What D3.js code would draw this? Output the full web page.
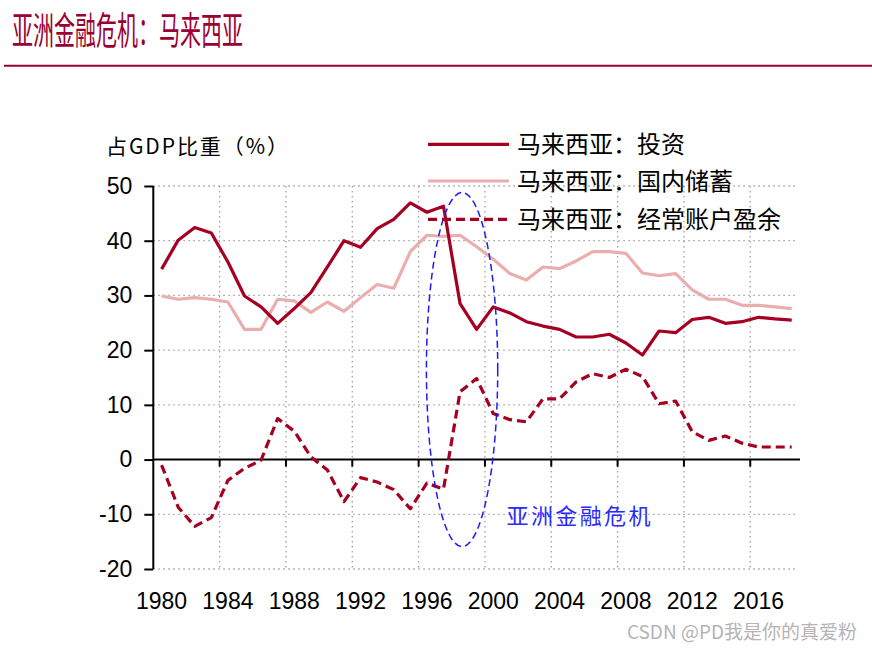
<!DOCTYPE html>
<html>
<head>
<meta charset="utf-8">
<script src="https://cdn.jsdelivr.net/npm/d3@7/dist/d3.min.js"></script>
<style>
  html, body { margin: 0; padding: 0; background: #fff; }
  svg { display: block; }
</style>
</head>
<body>
<svg id="chart" width="872" height="650"></svg>
<script>
// ---- data ----
const years = [1980,1981,1982,1983,1984,1985,1986,1987,1988,1989,
               1990,1991,1992,1993,1994,1995,1996,1997,1998,1999,
               2000,2001,2002,2003,2004,2005,2006,2007,2008,2009,
               2010,2011,2012,2013,2014,2015,2016,2017,2018];
const investment = [34.8,40.1,42.4,41.4,36.1,29.9,27.9,24.9,27.6,30.5,
                    35.2,40.0,38.8,42.2,43.9,46.9,45.2,46.3,28.5,23.8,
                    27.9,26.8,25.2,24.4,23.8,22.4,22.4,22.9,21.3,19.1,
                    23.5,23.2,25.6,26.0,24.9,25.2,26.0,25.7,25.5];
const savings = [29.9,29.3,29.6,29.3,28.8,23.8,23.8,29.3,29.0,26.9,
                 28.8,27.1,29.6,32.0,31.3,38.0,41.0,40.8,41.0,38.9,
                 36.6,34.0,32.8,35.2,34.9,36.3,38.0,38.0,37.7,34.1,
                 33.6,34.0,31.0,29.3,29.3,28.2,28.2,27.9,27.6];
const currentAccount = [-1.0,-8.7,-12.2,-10.6,-3.8,-1.6,-0.1,7.5,5.2,0.5,
                        -1.9,-7.7,-3.3,-4.1,-5.5,-9.0,-4.3,-5.4,12.4,14.8,
                        8.4,7.3,6.9,11.1,11.1,14.2,15.7,15.0,16.5,15.2,
                        10.2,10.7,5.1,3.5,4.3,3.0,2.3,2.3,2.3];
const yTicks = [-20,-10,0,10,20,30,40,50];
const xTickYears = [1980,1984,1988,1992,1996,2000,2004,2008,2012,2016];
const seriesNames = ["马来西亚：投资","马来西亚：国内储蓄","马来西亚：经常账户盈余"];
const titleText = "亚洲金融危机：马来西亚";
const yLabelText = "占GDP比重（%）";
const annotationText = "亚洲金融危机";
const watermarkText = "CSDN @PD我是你的真爱粉";
// crisis ellipse in data terms: centre year, value extent, half width in years
const crisisYear = 1998, crisisTop = 48.8, crisisBottom = -15.9, crisisHalfYears = 2.15;

// ---- styles ----
const C_INV = "#a50021", C_SAV = "#eaaeae", C_CA = "#a50021", C_TITLE = "#9b0034";
const CJK = "'Noto Sans CJK SC','Noto Sans',sans-serif";
const NUM = "'Liberation Sans',Arial,sans-serif";

const svg = d3.select("#chart");
const pL = 153.3, pR = 800, pT = 186, pB = 569;

const x = d3.scaleBand().domain(years).range([pL, pR]).padding(0);
const xc = d => x(d) + x.bandwidth() / 2;
const y = d3.scaleLinear().domain([-20, 50]).range([pB, pT]);

// title
svg.append("text").attr("x", 12).attr("y", 44)
  .attr("font-family", CJK).attr("font-size", 38).attr("fill", C_TITLE)
  .attr("textLength", 231).attr("lengthAdjust", "spacingAndGlyphs")
  .text(titleText);
svg.append("line").attr("x1", 4).attr("x2", 872).attr("y1", 65.7).attr("y2", 65.7)
  .attr("stroke", C_TITLE).attr("stroke-width", 2);

// grid
const g = svg.append("g");
g.selectAll("line.hg").data(yTicks.filter(t => t !== 0)).enter().append("line")
  .attr("x1", pL).attr("x2", pR - 2).attr("y1", d => y(d)).attr("y2", d => y(d))
  .attr("stroke", "#a0a0a0").attr("stroke-width", 1.3).attr("stroke-dasharray", "1.5,3.5");
g.selectAll("line.vg").data(xTickYears.filter(t => t !== 1980)).enter().append("line")
  .attr("x1", d => x(d)).attr("x2", d => x(d)).attr("y1", pT).attr("y2", pB)
  .attr("stroke", "#a0a0a0").attr("stroke-width", 1.3).attr("stroke-dasharray", "1.5,3.5");

// y axis
const yAxis = d3.axisLeft(y).tickValues(yTicks).tickSize(9).tickPadding(12).tickFormat(d => String(d));
const ya = svg.append("g").attr("transform", `translate(${pL},0)`).call(yAxis);
ya.select(".domain").attr("stroke", "#000").attr("stroke-width", 2).attr("d", `M0,${pT}V${pB}`);
ya.selectAll(".tick line").attr("stroke", "#000").attr("stroke-width", 2);
ya.selectAll(".tick text").attr("font-family", NUM).attr("font-size", 23).attr("fill", "#000");

// x axis at zero
const xa = svg.append("g").attr("transform", `translate(0,${y(0)})`);
xa.append("line").attr("x1", pL).attr("x2", pR).attr("y1", 0).attr("y2", 0)
  .attr("stroke", "#000").attr("stroke-width", 2);
xa.selectAll("line.tk").data(xTickYears.filter(t => t !== 1980)).enter().append("line")
  .attr("x1", d => x(d)).attr("x2", d => x(d)).attr("y1", 0).attr("y2", 7)
  .attr("stroke", "#000").attr("stroke-width", 2);
svg.selectAll("text.xl").data(xTickYears).enter().append("text")
  .attr("x", d => xc(d)).attr("y", 609).attr("text-anchor", "middle")
  .attr("font-family", NUM).attr("font-size", 23).attr("fill", "#000")
  .text(d => d);

// y label
svg.append("text").attr("x", 106).attr("y", 154)
  .attr("font-family", CJK).attr("font-size", 21).attr("fill", "#000")
  .attr("textLength", 182).attr("lengthAdjust", "spacing")
  .text(yLabelText);

// lines
const line = d3.line().x((d, i) => xc(years[i])).y(d => y(d));
svg.append("path").datum(savings).attr("d", line).attr("fill", "none")
  .attr("stroke", C_SAV).attr("stroke-width", 3.2).attr("stroke-linejoin", "round");
svg.append("path").datum(investment).attr("d", line).attr("fill", "none")
  .attr("stroke", C_INV).attr("stroke-width", 3.2).attr("stroke-linejoin", "round");
svg.append("path").datum(currentAccount).attr("d", line).attr("fill", "none")
  .attr("stroke", C_CA).attr("stroke-width", 3.2).attr("stroke-dasharray", "9,5")
  .attr("stroke-linejoin", "round");

// crisis ellipse
svg.append("ellipse")
  .attr("cx", xc(crisisYear) + 2)
  .attr("cy", (y(crisisTop) + y(crisisBottom)) / 2)
  .attr("rx", crisisHalfYears * x.step())
  .attr("ry", (y(crisisBottom) - y(crisisTop)) / 2)
  .attr("fill", "none").attr("stroke", "#1a1aff").attr("stroke-width", 1.5)
  .attr("stroke-dasharray", "7,4");
svg.append("text").attr("x", x(2001) + 5).attr("y", y(-10.3)).attr("dy", "0.35em")
  .attr("font-family", CJK).attr("font-size", 22).attr("fill", "#2a2aff")
  .attr("textLength", 144).attr("lengthAdjust", "spacing")
  .text(annotationText);

// legend
const legY = [144.3, 181, 219.3];
const legStyles = [
  {c: C_INV, dash: null},
  {c: C_SAV, dash: null},
  {c: C_CA, dash: "9,5"}
];
const leg = svg.append("g");
seriesNames.forEach((name, i) => {
  const l = leg.append("line").attr("x1", 428).attr("x2", 509)
    .attr("y1", legY[i]).attr("y2", legY[i])
    .attr("stroke", legStyles[i].c).attr("stroke-width", 3.2);
  if (legStyles[i].dash) l.attr("stroke-dasharray", legStyles[i].dash);
  leg.append("text").attr("x", 517).attr("y", legY[i]).attr("dy", "0.36em")
    .attr("font-family", CJK).attr("font-size", 24).attr("fill", "#000")
    .text(name);
});

// watermark
svg.append("text").attr("x", 857).attr("y", 639).attr("text-anchor", "end")
  .attr("font-family", CJK).attr("font-size", 19).attr("fill", "#b4b4b4")
  .text(watermarkText);
</script>
</body>
</html>
